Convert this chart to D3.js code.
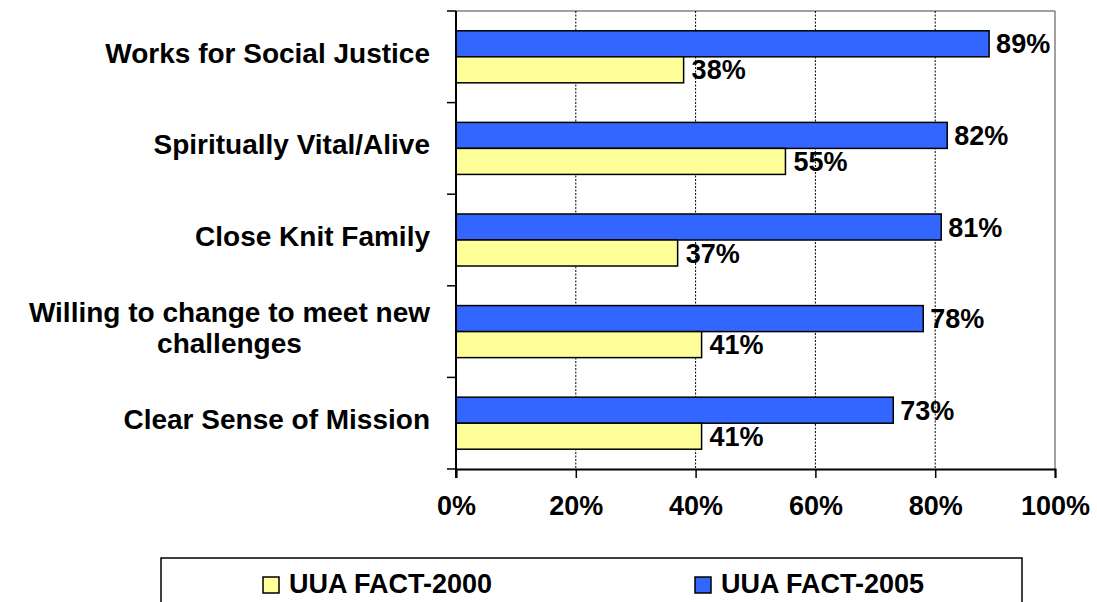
<!DOCTYPE html>
<html>
<head>
<meta charset="utf-8">
<script src="https://cdn.jsdelivr.net/npm/d3@7"></script>
<style>
  html, body { margin: 0; padding: 0; background: #fff; }
  svg { display: block; }
  text { font-family: "Liberation Sans", Arial, sans-serif; font-weight: bold; fill: #000; }
</style>
</head>
<body>
<svg id="chart" width="1097" height="602"></svg>
<script>
const categories = [
  "Works for Social Justice",
  "Spiritually Vital/Alive",
  "Close Knit Family",
  "Willing to change to meet new challenges",
  "Clear Sense of Mission"
];
const values2005 = [89, 82, 81, 78, 73];
const values2000 = [38, 55, 37, 41, 41];
const seriesNames = ["UUA FACT-2000", "UUA FACT-2005"];
const seriesColors = ["#FFFF99", "#3366FF"];
const xTicks = [0, 20, 40, 60, 80, 100];

const svg = d3.select("#chart");
const plot = { left: 456, right: 1055, top: 11, bottom: 469 };

const x = d3.scaleLinear().domain([0, 100]).range([plot.left, plot.right]);
const y = d3.scaleBand().domain(categories).range([plot.top, plot.bottom])
  .paddingInner(0.432).paddingOuter(0.216);
const sub = d3.scaleBand().domain(["2005", "2000"]).range([0, y.bandwidth()]);

// plot frame (top/right gray)
svg.append("line").attr("x1", plot.left).attr("x2", plot.right).attr("y1", plot.top).attr("y2", plot.top)
  .attr("stroke", "#808080").attr("stroke-width", 1.5);
svg.append("line").attr("x1", plot.right).attr("x2", plot.right).attr("y1", plot.top).attr("y2", plot.bottom)
  .attr("stroke", "#808080").attr("stroke-width", 1.5);

// gridlines
svg.append("g").selectAll("line").data(xTicks.filter(t => t > 0 && t < 100)).join("line")
  .attr("x1", d => x(d)).attr("x2", d => x(d))
  .attr("y1", plot.top).attr("y2", plot.bottom)
  .attr("stroke", "#000").attr("stroke-width", 1).attr("stroke-dasharray", "2,1.5");

// bars
const groups = svg.append("g").selectAll("g").data(categories).join("g")
  .attr("transform", d => `translate(0,${y(d)})`);
groups.append("rect")
  .attr("x", x(0)).attr("y", sub("2005"))
  .attr("width", (d, i) => x(values2005[i]) - x(0)).attr("height", sub.bandwidth())
  .attr("fill", seriesColors[1]).attr("stroke", "#000").attr("stroke-width", 1.5);
groups.append("rect")
  .attr("x", x(0)).attr("y", sub("2000"))
  .attr("width", (d, i) => x(values2000[i]) - x(0)).attr("height", sub.bandwidth())
  .attr("fill", seriesColors[0]).attr("stroke", "#000").attr("stroke-width", 1.5);

// value labels
groups.append("text")
  .attr("x", (d, i) => x(values2005[i]) + 7)
  .attr("y", sub("2005") + sub.bandwidth() / 2 + 9.5)
  .attr("font-size", 27)
  .text((d, i) => values2005[i] + "%");
groups.append("text")
  .attr("x", (d, i) => x(values2000[i]) + 8)
  .attr("y", sub("2000") + sub.bandwidth() / 2 + 9.5)
  .attr("font-size", 27)
  .text((d, i) => values2000[i] + "%");

// left axis
const yAxisG = svg.append("g");
yAxisG.append("line").attr("x1", plot.left).attr("x2", plot.left).attr("y1", plot.top).attr("y2", plot.bottom + 9)
  .attr("stroke", "#000").attr("stroke-width", 2);
const boundaries = d3.range(categories.length + 1).map(i => plot.top + i * y.step());
yAxisG.selectAll("line.tick").data(boundaries).join("line").attr("class", "tick")
  .attr("x1", plot.left - 9).attr("x2", plot.left).attr("y1", d => d).attr("y2", d => d)
  .attr("stroke", "#000").attr("stroke-width", 1.5);

// bottom axis
const xAxis = d3.axisBottom(x).tickValues(xTicks).tickSize(9).tickFormat(d => d + "%");
const xAxisG = svg.append("g").attr("transform", `translate(0,${plot.bottom})`).call(xAxis);
xAxisG.select(".domain").attr("stroke", "#000").attr("stroke-width", 2);
xAxisG.selectAll(".tick line").attr("stroke", "#000").attr("stroke-width", 1.5);
xAxisG.selectAll(".tick text").attr("font-size", 27).attr("font-family", "Liberation Sans, Arial, sans-serif")
  .attr("font-weight", "bold").attr("fill", "#000").attr("y", 0).attr("dy", 0)
  .attr("transform", "translate(0,46)");

// category labels with wrapping
const labelRight = 430;
const maxW = 425;
categories.forEach(cat => {
  const cy = y(cat) + y.bandwidth() / 2;
  const words = cat.split(" ");
  const tmp = svg.append("text").attr("font-size", 28);
  const lines = [];
  let cur = [];
  words.forEach(w => {
    const test = cur.concat([w]).join(" ");
    tmp.text(test);
    if (tmp.node().getComputedTextLength() > maxW && cur.length) {
      lines.push(cur.join(" "));
      cur = [w];
    } else {
      cur.push(w);
    }
  });
  lines.push(cur.join(" "));
  const widths = lines.map(l => { tmp.text(l); return tmp.node().getComputedTextLength(); });
  tmp.remove();
  const blockW = d3.max(widths);
  const cx = labelRight - blockW / 2;
  const lh = 31;
  const first = cy + 6 - (lines.length - 1) * lh / 2;
  lines.forEach((l, i) => {
    svg.append("text").attr("font-size", 28)
      .attr("text-anchor", lines.length > 1 ? "middle" : "end")
      .attr("x", lines.length > 1 ? cx : labelRight)
      .attr("y", first + i * lh)
      .text(l);
  });
});

// legend
const legend = svg.append("g");
legend.append("rect").attr("x", 161).attr("y", 558).attr("width", 1022 - 161).attr("height", 70)
  .attr("fill", "#fff").attr("stroke", "#000").attr("stroke-width", 1.5);
const legendX = [263, 695];
seriesNames.forEach((name, i) => {
  legend.append("rect").attr("x", legendX[i]).attr("y", 577).attr("width", 16).attr("height", 16)
    .attr("fill", seriesColors[i]).attr("stroke", "#000").attr("stroke-width", 1.5);
  legend.append("text").attr("x", legendX[i] + 26).attr("y", 593).attr("font-size", 27).text(name);
});
</script>
</body>
</html>
